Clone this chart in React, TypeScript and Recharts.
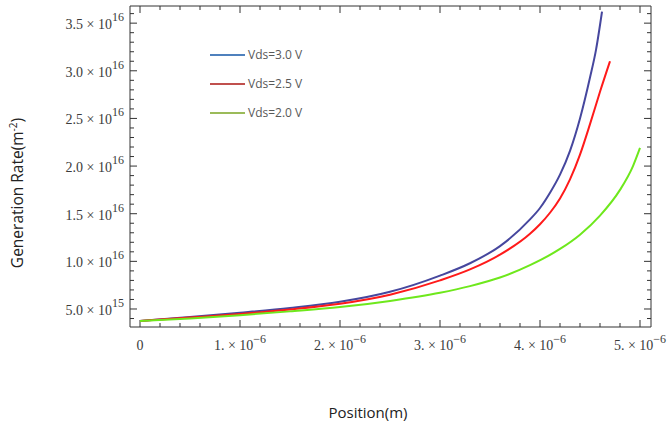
import React from "react";
import { LineChart, Line, XAxis, YAxis, ReferenceLine } from "recharts";

// position in micrometres, generation rate in units of 1e16 m^-2
const vds30X = [0, 0.5, 1.0, 1.5, 2.0, 2.5, 3.0, 3.3, 3.6, 3.9, 4.0, 4.1, 4.2, 4.3, 4.4, 4.5, 4.56, 4.62];
const vds30G = [0.374, 0.415, 0.46, 0.51, 0.575, 0.68, 0.85, 0.98, 1.16, 1.44, 1.56, 1.72, 1.91, 2.16, 2.5, 2.93, 3.22, 3.62];

const vds25X = [0, 0.5, 1.0, 1.5, 2.0, 2.5, 3.0, 3.3, 3.6, 3.9, 4.0, 4.1, 4.2, 4.3, 4.4, 4.5, 4.6, 4.7];
const vds25G = [0.374, 0.41, 0.448, 0.495, 0.555, 0.65, 0.8, 0.915, 1.07, 1.29, 1.39, 1.51, 1.66, 1.86, 2.12, 2.44, 2.78, 3.1];

const vds20X = [0, 0.5, 1.0, 1.5, 2.0, 2.5, 3.0, 3.3, 3.6, 3.9, 4.2, 4.4, 4.6, 4.8, 4.93, 5.0];
const vds20G = [0.374, 0.4, 0.435, 0.475, 0.52, 0.585, 0.67, 0.74, 0.83, 0.96, 1.13, 1.28, 1.48, 1.75, 2.0, 2.19];

const seriesNames = ["Vds=3.0 V", "Vds=2.5 V", "Vds=2.0 V"];
const lineColors = ["#46479e", "#ff1a1a", "#6ee81c"];
const legendColors = ["#4f81bd", "#c0504d", "#9bbb59"];

const xMajorLabels = ["0", "1.", "2.", "3.", "4.", "5."];
const yMajorMantissa = ["5.0", "1.0", "1.5", "2.0", "2.5", "3.0", "3.5"];

const toRows = (xs: number[], gs: number[]) =>
  xs.map((x, i) => ({ x: x * 1e-6, g: gs[i] * 1e16 }));

const series = [
  toRows(vds30X, vds30G),
  toRows(vds25X, vds25G),
  toRows(vds20X, vds20G),
];

// major ticks every 1 um / 5e15, minor every 0.2 um / 1e15
const xTicks: number[] = [];
for (let k = 0; k <= 25; k++) xTicks.push(k * 0.2e-6);
const xMajor = xTicks.filter((_, k) => k % 5 === 0);
const yTicks: number[] = [];
for (let k = 4; k <= 36; k++) yTicks.push(k * 1e15);
const yMajor = yTicks.filter((_, i) => (i + 4) % 5 === 0);

const W = 667;
const H = 429;
const LEFT = 130;
const TOP = 6;
const RIGHT = W - 16;
const BOTTOM = 327;
const FRAME = "#333";
const LABEL = "#3b3b3b";
const serif = "'Liberation Serif', 'DejaVu Serif', serif";
const sans = "'Open Sans', 'Noto Sans', sans-serif";

const xDomain = [-0.1e-6, 5.11e-6];
const yDomain = [3.11e15, 3.68e16];
// data units per pixel, used for inward tick lengths
const dxPx = (xDomain[1] - xDomain[0]) / (RIGHT - LEFT);
const dyPx = (yDomain[1] - yDomain[0]) / (BOTTOM - TOP);

const XLabel = ({ x, payload }: any) => {
  const k = Math.round(payload.value / 1e-6);
  return (
    <text x={x} y={BOTTOM + 23} textAnchor="middle" fontFamily={serif} fontSize={14} fill={LABEL}>
      {xMajorLabels[k]}
      {k > 0 && (
        <>
          <tspan>{" × 10"}</tspan>
          <tspan dy={-7} fontSize={12}>−6</tspan>
        </>
      )}
    </text>
  );
};

const YLabel = ({ y, payload }: any) => {
  const k = Math.round(payload.value / 5e15);
  const exp = k === 1 ? "15" : "16";
  return (
    <text x={LEFT - 6} y={y + 6} textAnchor="end" fontFamily={serif} fontSize={14} fill={LABEL}>
      {yMajorMantissa[k - 1]}
      <tspan>{" × 10"}</tspan>
      <tspan dy={-8} fontSize={12}>{exp}</tspan>
    </text>
  );
};

export default function App() {
  // inward frame ticks on all four sides
  const frameTicks: React.ReactNode[] = [];
  xTicks.forEach((v, k) => {
    const len = (k % 5 === 0 ? 7 : 4) * dyPx;
    frameTicks.push(
      <ReferenceLine key={`xb${k}`} ifOverflow="visible" segment={[{ x: v, y: yDomain[0] }, { x: v, y: yDomain[0] + len }]} stroke={FRAME} />,
      <ReferenceLine key={`xt${k}`} ifOverflow="visible" segment={[{ x: v, y: yDomain[1] }, { x: v, y: yDomain[1] - len }]} stroke={FRAME} />
    );
  });
  yTicks.forEach((v, i) => {
    const len = ((i + 4) % 5 === 0 ? 7 : 4) * dxPx;
    frameTicks.push(
      <ReferenceLine key={`yl${i}`} ifOverflow="visible" segment={[{ x: xDomain[0], y: v }, { x: xDomain[0] + len, y: v }]} stroke={FRAME} />,
      <ReferenceLine key={`yr${i}`} ifOverflow="visible" segment={[{ x: xDomain[1], y: v }, { x: xDomain[1] - len, y: v }]} stroke={FRAME} />
    );
  });

  return (
    <div style={{ position: "absolute", left: 0, top: 0, width: W, height: H, background: "#fff" }}>
      <LineChart width={W} height={H} margin={{ top: TOP, right: W - RIGHT, bottom: 0, left: 0 }}>
        <XAxis
          dataKey="x"
          type="number"
          domain={xDomain}
          ticks={xMajor}
          allowDataOverflow
          interval={0}
          height={H - BOTTOM}
          tickLine={false}
          axisLine={{ stroke: FRAME }}
          tick={<XLabel />}
        />
        <YAxis
          dataKey="g"
          type="number"
          domain={yDomain}
          ticks={yMajor}
          allowDataOverflow
          interval={0}
          width={LEFT}
          tickLine={false}
          axisLine={{ stroke: FRAME }}
          tick={<YLabel />}
        />
        <ReferenceLine y={yDomain[1]} stroke={FRAME} ifOverflow="visible" />
        <ReferenceLine x={xDomain[1]} stroke={FRAME} ifOverflow="visible" />
        {frameTicks}

        {series.map((rows, i) => (
          <Line
            key={seriesNames[i]}
            data={rows}
            dataKey="g"
            name={seriesNames[i]}
            type="monotone"
            stroke={lineColors[i]}
            strokeWidth={2}
            dot={false}
            isAnimationActive={false}
          />
        ))}
      </LineChart>

      {/* legend */}
      {seriesNames.map((name, i) => (
        <div
          key={name}
          style={{ position: "absolute", left: 210, top: 46 + i * 29, display: "flex", alignItems: "center" }}
        >
          <div style={{ width: 35, height: 2, background: legendColors[i] }} />
          <span style={{ marginLeft: 3, fontFamily: sans, fontSize: 12, color: "#595959", lineHeight: "18px" }}>
            {name}
          </span>
        </div>
      ))}

      <div
        style={{
          position: "absolute",
          left: 17,
          top: 193,
          transform: "translate(-50%, -50%) rotate(-90deg)",
          whiteSpace: "nowrap",
          fontFamily: sans,
          fontSize: 15.5,
          color: "#222",
        }}
      >
        Generation Rate(m<sup style={{ fontSize: 10 }}>-2</sup>)
      </div>
      <div
        style={{
          position: "absolute",
          left: 368,
          top: 412,
          transform: "translate(-50%, -50%)",
          whiteSpace: "nowrap",
          fontFamily: sans,
          fontSize: 15,
          color: "#222",
        }}
      >
        Position(m)
      </div>
    </div>
  );
}
